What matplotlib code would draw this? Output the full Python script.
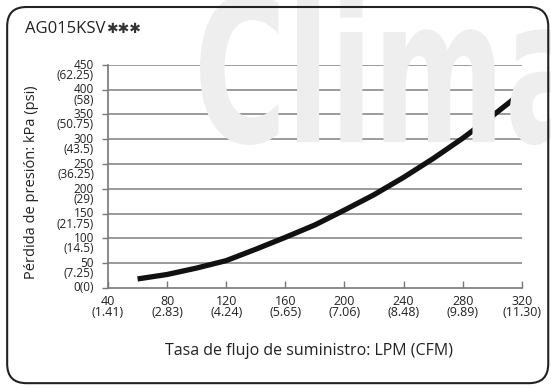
import matplotlib.pyplot as plt
from matplotlib.patches import FancyBboxPatch, PathPatch
from matplotlib.textpath import TextPath
from matplotlib.font_manager import FontProperties
from matplotlib.transforms import Affine2D, IdentityTransform

# Curva de pérdida de presión
caudal = [60, 80, 100, 120, 140, 160, 180, 200, 220, 240, 260, 280, 300, 320]
perdida = [18, 27, 40, 55, 78, 102, 127, 157, 188, 223, 261, 302, 347, 394]

# Marcas de los ejes (LPM / CFM y kPa / psi)
x_ticks = [40, 80, 120, 160, 200, 240, 280, 320]
x_cfm = ['1.41', '2.83', '4.24', '5.65', '7.06', '8.48', '9.89', '11.30']
y_ticks = [0, 50, 100, 150, 200, 250, 300, 350, 400, 450]
y_psi = ['0', '7.25', '14.5', '21.75', '29', '36.25', '43.5', '50.75', '58', '62.25']

plt.rcParams['font.family'] = ['Open Sans', 'DejaVu Sans']

fig = plt.figure(figsize=(5.51, 3.89), dpi=100)
fig.patch.set_facecolor('white')

# Marca de agua "Clima" estirada en vertical (coordenadas en píxeles)
tp = TextPath((0, 0), 'Clima', size=1, prop=FontProperties(family='DejaVu Sans', weight='bold'))
ext = tp.get_extents()
x0, x1, y0, y1 = 200, 580, 244, 400
escala = Affine2D().translate(-ext.x0, -ext.y0).scale((x1 - x0) / ext.width,
                                                      (y1 - y0) / ext.height).translate(x0, y0)
fig.patches.append(PathPatch(escala.transform_path(tp), transform=IdentityTransform(),
                             facecolor='#eeeeee', edgecolor='none', zorder=0))

# Marco redondeado
marco = FancyBboxPatch((0.013, 0.015), 0.982, 0.967, transform=fig.transFigure,
                       boxstyle='round,pad=0,rounding_size=0.035',
                       facecolor='none', edgecolor='#222222', linewidth=1.5,
                       mutation_aspect=551 / 389)
fig.patches.append(marco)

titulo = fig.text(0.045, 0.925, 'AG015KSV', fontsize=12, color='#222222',
                  ha='left', va='center')
fig.canvas.draw()
bb = titulo.get_window_extent()
fig.text(bb.x1 + 1, (bb.y0 + bb.y1) / 2, '✱✱✱', fontsize=10, color='#333333',
         family=['DejaVu Sans'], ha='left', va='center', transform=IdentityTransform())

ax = fig.add_axes([0.196, 0.26, 0.751, 0.573])
ax.patch.set_alpha(0)

for y in y_ticks[1:]:
    ax.axhline(y, color='#8a8a8a', linewidth=1.2, zorder=1)

ax.plot(caudal, perdida, color='#111111', linewidth=3.8, solid_capstyle='butt', zorder=3)

ax.set_xlim(40, 320)
ax.set_ylim(0, 450)

ax.set_xticks(x_ticks)
ax.set_xticklabels([f'{x}\n({c})' for x, c in zip(x_ticks, x_cfm)],
                   fontsize=9, linespacing=0.85, color='#222222')

# Etiquetas del eje y en dos líneas: kPa arriba (a la altura de la marca) y psi debajo
ax.set_yticks(y_ticks)
ax.set_yticklabels([])
for y, p in zip(y_ticks, y_psi):
    if y > 0:
        ax.annotate(f'{y}\n({p})', xy=(0, y), xycoords=ax.get_yaxis_transform(),
                    xytext=(-10, 4.5), textcoords='offset points', ha='right', va='top',
                    fontsize=8.5, linespacing=0.72, color='#222222', annotation_clip=False)
    else:
        ax.annotate('0(0)', xy=(0, y), xycoords=ax.get_yaxis_transform(),
                    xytext=(-10, 0), textcoords='offset points', ha='right', va='center',
                    fontsize=8.5, color='#222222', annotation_clip=False)

ax.tick_params(axis='y', direction='out', length=4, width=1, color='#777777')
ax.tick_params(axis='x', direction='in', length=5, width=1, color='#777777', pad=5)

for lado in ['top', 'right']:
    ax.spines[lado].set_visible(False)
ax.spines['left'].set_color('#777777')
ax.spines['bottom'].set_color('#777777')
ax.spines['left'].set_linewidth(1.2)
ax.spines['bottom'].set_linewidth(1.2)

fig.text(0.058, 0.532, 'Pérdida de presión: kPa (psi)', rotation=90, fontsize=10.5,
         color='#222222', ha='center', va='center')
fig.text(0.56, 0.098, 'Tasa de flujo de suministro: LPM (CFM)', fontsize=11.5,
         color='#222222', ha='center', va='center')

fig.savefig('out.png', dpi=100)
